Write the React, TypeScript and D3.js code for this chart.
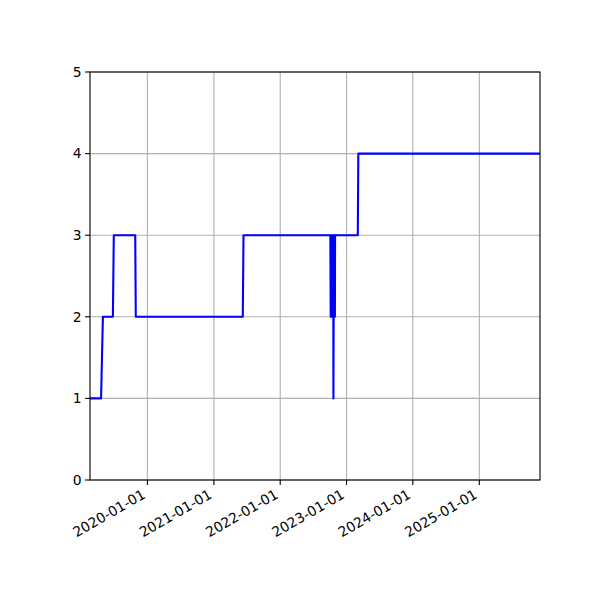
import { useRef, useEffect } from "react";
import * as d3 from "d3";

// step-like series (date, level)
const dates = [
  "2019-02-19", "2019-04-21", "2019-05-01", "2019-06-25", "2019-06-30",
  "2019-10-26", "2019-10-29", "2021-06-09", "2021-06-13",
  "2022-10-04", "2022-10-06", "2022-10-08", "2022-10-10", "2022-10-12",
  "2022-10-14", "2022-10-16", "2022-10-18", "2022-10-20", "2022-10-21",
  "2022-10-23", "2022-10-25", "2022-10-27", "2022-10-29", "2022-10-30",
  "2023-03-04", "2023-03-07", "2025-12-01",
];
const levels = [
  1, 1, 2, 2, 3,
  3, 2, 2, 3,
  3, 2, 3, 2, 3,
  2, 3, 2, 3, 1,
  3, 2, 3, 2, 3,
  3, 4, 4,
];
const xTicks = ["2020-01-01", "2021-01-01", "2022-01-01", "2023-01-01", "2024-01-01", "2025-01-01"];
const yTicks = [0, 1, 2, 3, 4, 5];

const width = 600;
const height = 600;
const marginTop = 72;
const marginRight = 60;
const marginBottom = 120;
const marginLeft = 90;

export default function App() {
  const svgRef = useRef<SVGSVGElement>(null);

  useEffect(() => {
    const svg = d3.select(svgRef.current);
    svg.selectAll("*").remove();

    const parse = d3.utcParse("%Y-%m-%d");
    const data = dates.map((d, i) => ({ date: parse(d)!, value: levels[i] }));

    const x = d3
      .scaleUtc()
      .domain(d3.extent(data, (d) => d.date) as [Date, Date])
      .range([marginLeft, width - marginRight]);
    const y = d3.scaleLinear().domain([0, 5]).range([height - marginBottom, marginTop]);

    const font = "DejaVu Sans, sans-serif";
    const tickDates = xTicks.map((t) => parse(t)!);

    // grid
    const grid = svg.append("g").attr("stroke", "#b0b0b0").attr("stroke-width", 1.1);
    tickDates.forEach((t) => {
      grid.append("line").attr("x1", x(t)).attr("x2", x(t)).attr("y1", marginTop).attr("y2", height - marginBottom);
    });
    yTicks.forEach((v) => {
      grid.append("line").attr("x1", marginLeft).attr("x2", width - marginRight).attr("y1", y(v)).attr("y2", y(v));
    });

    // line
    const line = d3
      .line<{ date: Date; value: number }>()
      .x((d) => x(d.date))
      .y((d) => y(d.value));
    svg
      .append("path")
      .datum(data)
      .attr("d", line)
      .attr("fill", "none")
      .attr("stroke", "#0000ff")
      .attr("stroke-width", 2.1)
      .attr("stroke-linejoin", "round");

    // frame
    svg
      .append("rect")
      .attr("x", marginLeft)
      .attr("y", marginTop)
      .attr("width", width - marginLeft - marginRight)
      .attr("height", height - marginTop - marginBottom)
      .attr("fill", "none")
      .attr("stroke", "black")
      .attr("stroke-width", 1.1);

    // y ticks
    yTicks.forEach((v) => {
      svg.append("line").attr("x1", marginLeft - 4.9).attr("x2", marginLeft).attr("y1", y(v)).attr("y2", y(v)).attr("stroke", "black").attr("stroke-width", 1.1);
      svg
        .append("text")
        .attr("x", marginLeft - 8.5)
        .attr("y", y(v))
        .attr("dy", "0.35em")
        .attr("text-anchor", "end")
        .attr("font-family", font)
        .attr("font-size", 13.9)
        .text(v);
    });

    // x ticks
    const base = height - marginBottom;
    tickDates.forEach((t, i) => {
      svg.append("line").attr("x1", x(t)).attr("x2", x(t)).attr("y1", base).attr("y2", base + 4.9).attr("stroke", "black").attr("stroke-width", 1.1);
      svg
        .append("text")
        .attr("transform", `translate(${x(t) - 3.5},${base + 13}) rotate(-30)`)
        .attr("dy", "0.35em")
        .attr("text-anchor", "end")
        .attr("font-family", font)
        .attr("font-size", 13.9)
        .text(xTicks[i]);
    });
  }, []);

  return <svg ref={svgRef} width={width} height={height} style={{ display: "block", margin: -8 }} />;
}
